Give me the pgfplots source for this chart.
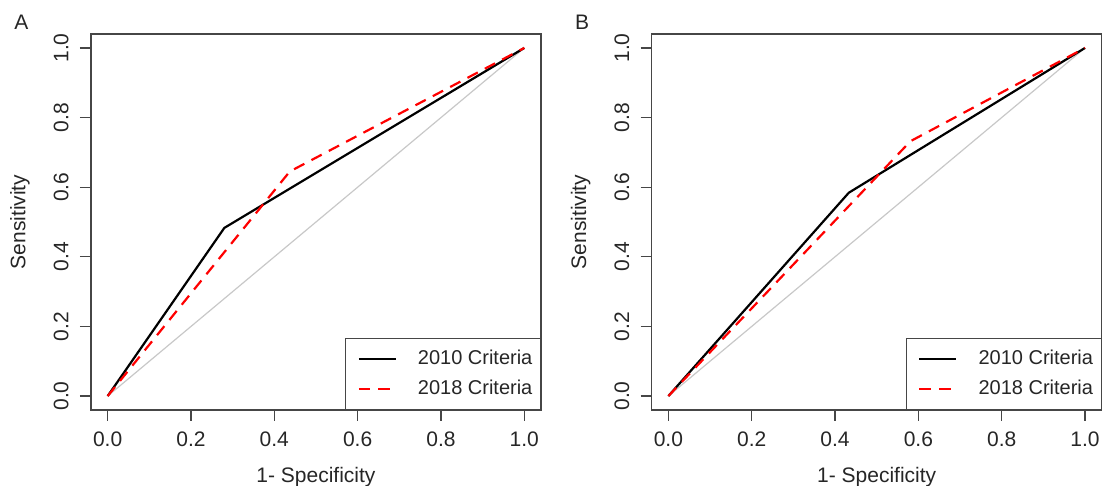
\documentclass[border=0pt]{standalone}
\usepackage{pgfplots}
\pgfplotsset{compat=1.18}
\usepackage{fontspec}
\setmainfont{Liberation Sans}
\definecolor{boxc}{RGB}{70,70,70}
\definecolor{diagc}{RGB}{200,200,200}
\pgfplotsset{
  rocstyle/.style={
    scale only axis, width=225pt, height=188pt,
    xmin=-0.04, xmax=1.04, ymin=-0.04, ymax=1.04,
    axis line style={boxc, line width=0.6pt},
    xtick={0,0.2,...,1}, ytick={0,0.2,...,1},
    xticklabels={0.0,0.2,0.4,0.6,0.8,1.0},
    yticklabels={0.0,0.2,0.4,0.6,0.8,1.0},
    tick align=outside, major tick length=5.5pt,
    tick style={boxc, line width=0.6pt},
    xtick pos=bottom, ytick pos=left,
    /pgf/number format/assume math mode=true,
    tick label style={font=\fontsize{10.5}{12}\selectfont, text=black!85},
    yticklabel style={rotate=90, anchor=south, inner sep=0pt, yshift=5.5pt},
    xticklabel style={anchor=north, inner sep=0pt, yshift=-5pt},
    xlabel={1- Specificity}, ylabel={Sensitivity},
    label style={font=\fontsize{10.5}{12}\selectfont, text=black!85},
    xlabel style={at={(0.5,0)}, anchor=center, yshift=-33.5pt},
    ylabel style={at={(0,0.5)}, anchor=center, yshift=35.5pt},
    legend style={at={(1,0)}, anchor=south east, draw=boxc, line width=0.6pt,
      font=\fontsize{10}{12}\selectfont, text=black!85,
      inner xsep=2pt, inner ysep=4pt, row sep=2pt,
      cells={anchor=west}},
    legend cell align=left,
    legend image code/.code={\path (-4pt,0pt); \draw[#1] (0pt,0pt) -- (18.5pt,0pt); \path (27pt,0pt);},
  }
}
\begin{document}
\begin{tikzpicture}
\useasboundingbox (-45.5pt,-38pt) rectangle (507pt,205pt);
\begin{axis}[rocstyle, at={(0,0)}, anchor=south west]
\addplot[diagc, line width=0.6pt, forget plot] coordinates {(0,0) (1,1)};
\addplot[black, line width=1.1pt] coordinates {(0,0) (0.28,0.483) (1,1)};
\addlegendentry{2010 Criteria}
\addplot[red, line width=1.1pt, dash pattern=on 5.8pt off 4pt] coordinates {(0,0) (0.437,0.645) (1,1)};
\addlegendentry{2018 Criteria}
\end{axis}
\begin{axis}[rocstyle, at={(280.35pt,0)}, anchor=south west]
\addplot[diagc, line width=0.6pt, forget plot] coordinates {(0,0) (1,1)};
\addplot[black, line width=1.1pt] coordinates {(0,0) (0.433,0.584) (1,1)};
\addlegendentry{2010 Criteria}
\addplot[red, line width=1.1pt, dash pattern=on 5.8pt off 4pt] coordinates {(0,0) (0.581,0.732) (1,1)};
\addlegendentry{2018 Criteria}
\end{axis}
\node[font=\fontsize{10.5}{12}\selectfont, text=black!85] at (-34.75pt,193.75pt) {A};
\node[font=\fontsize{10.5}{12}\selectfont, text=black!85] at (245.6pt,193.75pt) {B};
\end{tikzpicture}
\end{document}
